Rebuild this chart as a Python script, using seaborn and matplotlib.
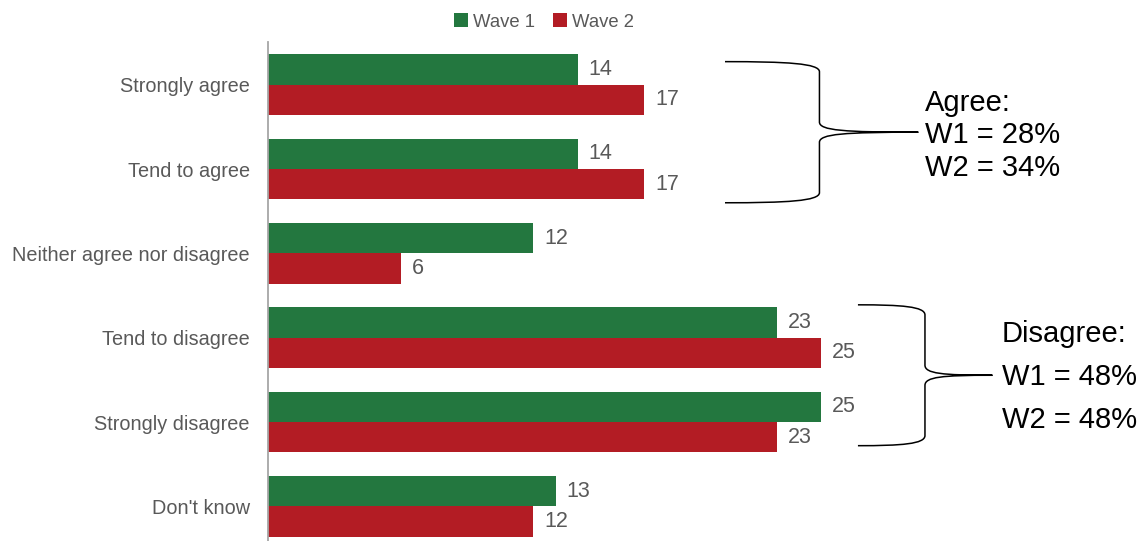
import numpy as np
import pandas as pd
import matplotlib
matplotlib.use("Agg")
import matplotlib.pyplot as plt
from matplotlib.path import Path
from matplotlib.patches import PathPatch
import seaborn as sns

# Survey responses (% of respondents) for two waves
categories = ["Strongly agree", "Tend to agree", "Neither agree nor disagree",
              "Tend to disagree", "Strongly disagree", "Don't know"]
wave1 = [14, 14, 12, 23, 25, 13]
wave2 = [17, 17, 6, 25, 23, 12]
series_names = ["Wave 1", "Wave 2"]
colors = ["#23773F", "#B31C24"]

df = pd.DataFrame({
    "category": categories * 2,
    "value": wave1 + wave2,
    "wave": [series_names[0]] * len(categories) + [series_names[1]] * len(categories),
})

sns.set_theme(style="white")
plt.rcParams["font.family"] = ["Liberation Sans", "DejaVu Sans"]

W, H = 1147, 541
fig = plt.figure(figsize=(W / 100, H / 100), dpi=100)
ax = fig.add_axes([268 / W, 0.0, 1 - 268 / W, (H - 42.5) / H])

sns.barplot(data=df, y="category", x="value", hue="wave", order=categories,
            hue_order=series_names, palette=colors, saturation=1, width=0.72,
            orient="h", ax=ax, legend=True, linewidth=0)

ax.set_xlim(0, (W - 268) / 22.12)
ax.set_ylim(5.41, -0.5)
ax.set_xlabel("")
ax.set_ylabel("")
ax.set_xticks([])
for side in ["top", "right", "bottom"]:
    ax.spines[side].set_visible(False)
ax.spines["left"].set_color("#A6A6A6")
ax.spines["left"].set_linewidth(1.3)
ax.tick_params(axis="y", length=0, pad=13, labelsize=14.3, labelcolor="#595959")

for cont in ax.containers:
    ax.bar_label(cont, fmt="%d", padding=8, fontsize=15.5, color="#595959")

# Legend centred above the plot
handles, labels = ax.get_legend_handles_labels()
ax.get_legend().remove()
fig.legend(handles, labels, loc="center", bbox_to_anchor=(544 / W, 1 - 22 / H),
           ncol=2, frameon=False, fontsize=13.3, handlelength=0.75, handleheight=0.75,
           handletextpad=0.25, columnspacing=1.0, labelcolor="#595959")


def brace(ax, x_left, x_mid, x_tip, y_top, y_bot, rv=0.12):
    """Right-facing curly brace in data coordinates (y grows downward)."""
    y_c = (y_top + y_bot) / 2
    dx_tip = x_tip - x_mid
    verts = [
        (x_left, y_top),
        (x_left + 0.65 * (x_mid - x_left), y_top), (x_mid, y_top + 0.02), (x_mid, y_top + rv),
        (x_mid, y_c - rv),
        (x_mid, y_c - 0.02), (x_mid + 0.25 * dx_tip, y_c), (x_tip, y_c),
        (x_mid + 0.25 * dx_tip, y_c), (x_mid, y_c + 0.02), (x_mid, y_c + rv),
        (x_mid, y_bot - rv),
        (x_mid, y_bot - 0.02), (x_left + 0.65 * (x_mid - x_left), y_bot), (x_left, y_bot),
    ]
    codes = [Path.MOVETO,
             Path.CURVE4, Path.CURVE4, Path.CURVE4,
             Path.LINETO,
             Path.CURVE4, Path.CURVE4, Path.CURVE4,
             Path.CURVE4, Path.CURVE4, Path.CURVE4,
             Path.LINETO,
             Path.CURVE4, Path.CURVE4, Path.CURVE4]
    ax.add_patch(PathPatch(Path(verts, codes), facecolor="none", edgecolor="black",
                           linewidth=1.1, clip_on=False))


agree_w1 = wave1[0] + wave1[1]
agree_w2 = wave2[0] + wave2[1]
disagree_w1 = wave1[3] + wave1[4]
disagree_w2 = wave2[3] + wave2[4]

brace(ax, 20.66, 24.93, 29.4, -0.273, 1.40)
brace(ax, 26.67, 29.7, 32.75, 2.61, 4.28)

txt = dict(fontsize=21, color="black", ha="left", va="center")
ax.text(29.7, 0.214, "Agree:", **txt)
ax.text(29.7, 0.593, f"W1 = {agree_w1}%", **txt)
ax.text(29.7, 0.985, f"W2 = {agree_w2}%", **txt)
ax.text(33.18, 2.954, "Disagree:", **txt)
ax.text(33.18, 3.464, f"W1 = {disagree_w1}%", **txt)
ax.text(33.18, 3.974, f"W2 = {disagree_w2}%", **txt)

fig.savefig("out.png", dpi=100)
